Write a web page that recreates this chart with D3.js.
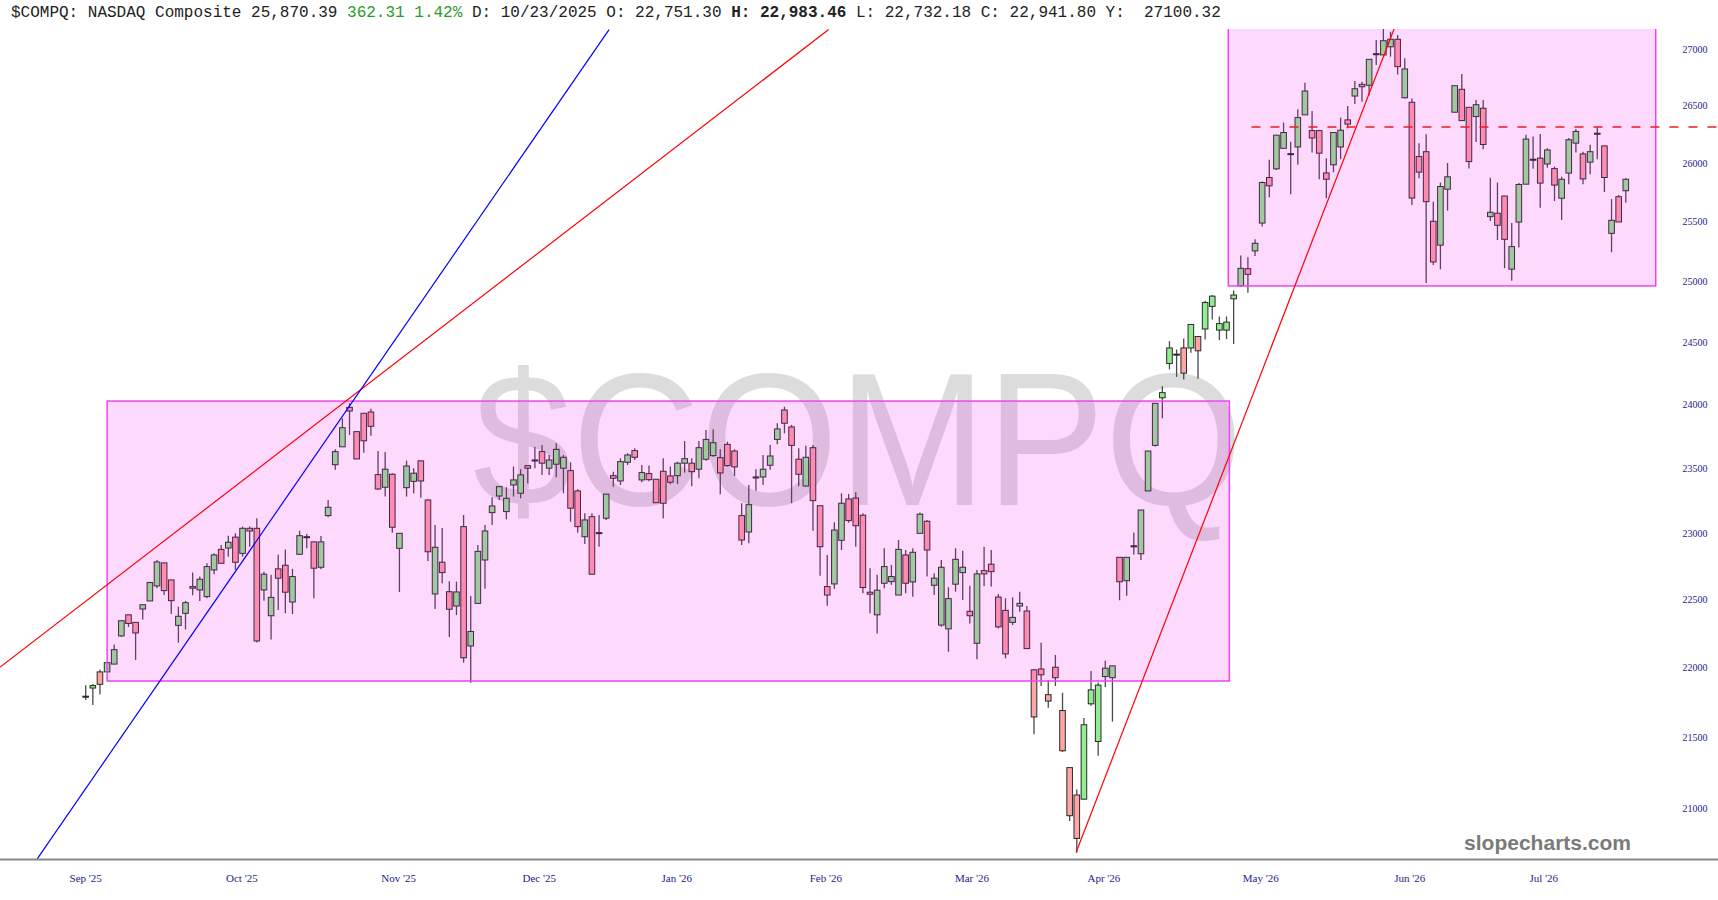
<!DOCTYPE html>
<html>
<head>
<meta charset="utf-8">
<script src="https://cdn.jsdelivr.net/npm/d3@7"></script>
<style>
  html, body { margin: 0; padding: 0; background: #fff; }
  svg { display: block; }
</style>
</head>
<body>
<div id="chart"></div>
<script>
// daily candles, Sep '25 .. Jul '26
var opens = [21795,21854,21971,21971,22028,22234,22390,22334,22433,22493,22605,22778,22650,22312,22401,22600,22575,22525,22725,22880,
  22890,22973,22850,23040,23040,22575,22383,22733,22760,22485,22843,22976,22937,22745,23137,23530,23670,23981,23789,23934,
  23944,23453,23355,23456,22888,23352,23401,23560,23257,22545,22783,22562,22455,23053,22160,22475,22800,23160,23288,23168,
  23373,23309,23523,23567,23632,23503,23534,23503,23484,23327,22976,23129,23007,23117,23445,23404,23549,23640,23412,23461,
  23417,23479,23443,23445,23542,23542,23495,23573,23601,23585,23689,23637,23137,23012,23435,23435,23526,23728,23960,23826,
  23573,23365,23663,23213,22600,22620,22949,23265,23272,23140,22558,22390,22625,22637,22537,22838,22635,23002,23094,22610,
  22314,22286,22618,22705,22416,22180,22720,22768,22522,22423,22334,22455,22418,21986,21992,21806,22005,21692,21286,21094,
  21065,21740,21471,21937,21929,22820,22644,22907,22847,23327,23681,24057,24332,24407,24457,24457,24550,24611,24796,24602,
  24602,24858,24965,25107,25255,25489,25876,25950,26127,26081,26139,26418,26281,26281,25915,25985,26139,26374,26583,26686,
  26678,26958,26947,27020,27087,26568,26528,26056,26098,25504,25303,25776,26441,26642,26484,26403,26476,25543,25572,25718,
  25103,25497,25819,26033,26042,25992,25952,25699,25914,26172,26079,26008,26258,26148,25402,25712,25763];
var highs = [21874,21884,21989,22045,22172,22346,22390,22334,22465,22637,22800,22778,22650,22450,22493,22705,22675,22775,22850,22913,
  22984,23002,23053,23053,23117,22712,22688,22840,22880,22733,23022,22997,22937,22982,23257,23650,23894,24013,23789,23934,
  23970,23637,23629,23464,23002,23562,23503,23560,23262,23066,23043,22640,22637,23142,22530,22913,23066,23278,23360,23355,
  23516,23495,23523,23671,23684,23606,23697,23606,23549,23340,23155,23155,23142,23302,23476,23580,23619,23658,23528,23523,
  23417,23580,23516,23554,23715,23580,23715,23802,23807,23650,23710,23650,23232,23373,23495,23606,23684,23855,23986,23842,
  23658,23679,23684,23213,22838,23086,23309,23304,23317,23155,22738,22688,22888,22763,22951,22875,22888,23160,23104,22700,
  22800,22595,22888,22870,22607,22725,22900,22875,22545,22513,22520,22562,22455,21992,22184,21912,22094,21820,21286,21133,
  21638,21978,21894,22053,22015,22820,22820,23008,23180,23637,24013,24149,24513,24444,24534,24648,24550,24842,24889,24713,
  24713,24926,25216,25202,25353,25842,26028,26241,26351,26183,26467,26701,26452,26281,26042,26264,26394,26496,26716,26710,
  26908,27080,27200,27155,27125,26917,26562,26171,26250,25670,25833,26000,26674,26778,26484,26548,26548,25873,25833,25718,
  25489,25828,26244,26229,26252,26128,25969,25883,26216,26294,26098,26157,26310,26148,25692,25726,25870];
var lows = [21767,21731,21808,21971,22028,22227,22300,22058,22356,22493,22588,22537,22396,22185,22282,22535,22493,22513,22693,22775,
  22825,22725,22825,22900,22185,22495,22207,22425,22401,22396,22843,22888,22513,22730,23125,23490,23670,23763,23575,23624,
  23757,23334,23283,23007,22560,23283,23309,23275,22793,22433,22625,22227,22388,22038,21893,22475,22583,23066,23257,23109,
  23283,23270,23384,23503,23451,23451,23433,23309,23091,23007,22921,22693,22900,23104,23360,23373,23528,23567,23394,23401,
  23236,23117,23379,23381,23469,23363,23425,23560,23593,23302,23515,23443,22913,22926,23329,23373,23490,23689,23776,23232,
  23363,23360,23022,22682,22458,22583,22875,23083,22900,22550,22401,22252,22588,22613,22537,22550,22525,23002,22675,22537,
  22301,22118,22562,22500,22326,22063,22605,22600,22289,22070,22314,22413,22141,21522,21868,21711,21868,21397,20913,20697,
  21065,21727,21370,21862,21612,22498,22532,22842,22800,23327,23672,23894,24284,24224,24203,24419,24209,24526,24688,24520,
  24529,24489,24957,24907,25213,25459,25708,25941,26127,25733,25985,26418,26090,25861,25699,25921,26033,26302,26513,26533,
  26591,26858,26947,26932,26773,26562,25642,25870,24988,25138,25102,25594,26441,26368,25953,26181,26119,25507,25346,25111,
  25007,25283,25819,25950,25619,25960,25676,25515,25819,26090,25819,25903,26033,25752,25244,25498,25661];
var closes = [21795,21872,21881,22038,22133,22346,22326,22256,22465,22630,22785,22570,22495,22379,22480,22588,22655,22750,22838,22775,
  22934,22783,23040,23020,22197,22693,22520,22663,22558,22675,22984,22976,22738,22937,23201,23632,23820,23952,23575,23717,
  23831,23342,23495,23048,23002,23520,23464,23404,22862,22896,22705,22431,22560,22074,22267,22865,23020,23211,23360,23270,
  23412,23451,23503,23567,23542,23567,23650,23588,23194,23053,23104,22693,23007,23302,23425,23554,23606,23588,23469,23414,
  23236,23232,23394,23542,23577,23476,23663,23728,23702,23466,23523,23513,22951,23221,23435,23495,23598,23810,23855,23681,
  23456,23588,23252,22900,22537,23027,23232,23099,23060,22593,22543,22573,22750,22675,22880,22625,22858,23148,22875,22663,
  22745,22510,22805,22745,22383,22695,22695,22712,22301,22102,22371,22475,22141,21646,21950,21760,21929,21405,20950,20793,
  21590,21841,21875,21998,22015,22636,22820,22907,23180,23637,24013,24098,24457,24407,24254,24648,24434,24827,24880,24655,
  24667,24889,25110,25060,25319,25833,25805,26241,26264,26081,26394,26627,26217,26085,25861,26264,26284,26337,26647,26665,
  26908,26958,27074,27087,26843,26822,25701,25922,25670,25163,25799,25882,26674,26368,26013,26507,26160,25580,25470,25352,
  25291,25816,26207,26033,25828,26113,25811,25861,26201,26273,25864,26098,26258,25876,25512,25498,25861];

// month tick labels, placed on candle index
var monthLabels = ["Sep '25", "Oct '25", "Nov '25", "Dec '25", "Jan '26", "Feb '26", "Mar '26", "Apr '26", "May '26", "Jun '26", "Jul '26"];
var monthPos = [0, 21.9, 43.9, 63.6, 82.9, 103.8, 124.3, 142.8, 164.8, 185.7, 204.5];
var priceTicks = [21000, 21500, 22000, 22500, 23000, 23500, 24000, 24500, 25000, 25500, 26000, 26500, 27000];

// drawn annotations: [index, price] pairs
var rangeBoxes = [[[3.0, 24031], [160.4, 21905]], [[160.25, 27600], [220.2, 24964]]];
var trendRed = [[[-12.0, 22006], [104.2, 27174]], [[138.9, 20697], [183.5, 27179]]];
var trendBlue = [[[-6.8, 20653], [73.4, 27174]]];
var resistance = [[163.5, 26312], [229, 26312]];

var W = 1718, H = 900;
var plotTop = 29, plotBottom = 859;

var svg = d3.select("#chart").append("svg")
  .attr("width", W)
  .attr("height", H);

var x = d3.scaleLinear().domain([0, 216]).range([85.7, 1625.8]);
var y = d3.scaleLog().domain([21000, 27000]).range([808.5, 49]);

svg.append("defs").append("clipPath").attr("id", "plotclip")
  .append("rect").attr("x", 0).attr("y", plotTop).attr("width", W).attr("height", plotBottom - plotTop);

// watermark
svg.append("text")
  .attr("x", 858).attr("y", 505)
  .attr("text-anchor", "middle")
  .attr("textLength", 770)
  .attr("lengthAdjust", "spacingAndGlyphs")
  .style("font-family", "'Liberation Sans', Arial, sans-serif")
  .style("font-size", "190px")
  .style("fill", "#dcdcdc")
  .text("$COMPQ");

var plot = svg.append("g").attr("clip-path", "url(#plotclip)");

var candles = d3.range(opens.length).map(function (i) {
  return { i: i, o: opens[i], h: highs[i], l: lows[i], c: closes[i] };
});

var bw = 5.6;

var g = plot.selectAll("g.candle").data(candles).enter().append("g").attr("class", "candle");

g.append("line")
  .attr("x1", function (d) { return x(d.i); })
  .attr("x2", function (d) { return x(d.i); })
  .attr("y1", function (d) { return y(d.h); })
  .attr("y2", function (d) { return y(d.l); })
  .style("stroke", "#4a4a4a")
  .style("stroke-width", 1.3);

g.append("rect")
  .attr("x", function (d) { return x(d.i) - bw / 2; })
  .attr("y", function (d) { return y(Math.max(d.o, d.c)); })
  .attr("width", bw)
  .attr("height", function (d) { return Math.max(1, Math.abs(y(d.o) - y(d.c))); })
  .style("fill", function (d) {
    if (d.o === d.c) return "#222";
    return d.c > d.o ? "#90ee90" : "#ffa5a5";
  })
  .style("stroke", "#2a2a2a")
  .style("stroke-width", 1);

// range boxes (translucent, over the candles)
plot.selectAll("rect.box").data(rangeBoxes).enter().append("rect")
  .attr("class", "box")
  .attr("x", function (d) { return x(d[0][0]); })
  .attr("y", function (d) { return y(d[0][1]); })
  .attr("width", function (d) { return x(d[1][0]) - x(d[0][0]); })
  .attr("height", function (d) { return y(d[1][1]) - y(d[0][1]); })
  .style("fill", "rgba(250,0,250,0.15)")
  .style("stroke", "#ee44ee")
  .style("stroke-width", 1.5);

function drawLines(data, color) {
  plot.selectAll(null).data(data).enter().append("line")
    .attr("x1", function (d) { return x(d[0][0]); })
    .attr("y1", function (d) { return y(d[0][1]); })
    .attr("x2", function (d) { return x(d[1][0]); })
    .attr("y2", function (d) { return y(d[1][1]); })
    .style("stroke", color)
    .style("stroke-width", 1.2);
}
drawLines(trendRed, "#ff0000");
drawLines(trendBlue, "#0000ff");

plot.append("line")
  .attr("x1", x(resistance[0][0])).attr("y1", y(resistance[0][1]))
  .attr("x2", x(resistance[1][0])).attr("y2", y(resistance[1][1]))
  .style("stroke", "#ee1c1c")
  .style("stroke-width", 1.3)
  .style("stroke-dasharray", "9,10");

// bottom axis line
svg.append("line")
  .attr("x1", 0).attr("x2", W)
  .attr("y1", plotBottom + 0.5).attr("y2", plotBottom + 0.5)
  .style("stroke", "#888")
  .style("stroke-width", 2);

svg.selectAll("text.month").data(monthLabels).enter().append("text")
  .attr("class", "month")
  .attr("x", function (d, i) { return x(monthPos[i]); })
  .attr("y", 882)
  .attr("text-anchor", "middle")
  .style("font-family", "'Liberation Serif', 'Times New Roman', serif")
  .style("font-size", "11px")
  .style("fill", "#1c1c8c")
  .text(function (d) { return d; });

svg.selectAll("text.price").data(priceTicks).enter().append("text")
  .attr("class", "price")
  .attr("x", 1695)
  .attr("y", function (d) { return y(d); })
  .attr("dy", "0.35em")
  .attr("text-anchor", "middle")
  .style("font-family", "'Liberation Serif', 'Times New Roman', serif")
  .style("font-size", "10px")
  .style("fill", "#1c1c8c")
  .text(function (d) { return d; });

svg.append("text")
  .attr("x", 1631).attr("y", 850)
  .attr("text-anchor", "end")
  .style("font-family", "'Liberation Sans', Arial, sans-serif")
  .style("font-weight", "bold")
  .style("font-size", "21px")
  .style("fill", "#7a7a7a")
  .text("slopecharts.com");

// header
var header = svg.append("text")
  .attr("x", 11).attr("y", 17)
  .style("font-family", "'Liberation Mono', 'Courier New', monospace")
  .style("font-size", "16px")
  .style("white-space", "pre")
  .style("fill", "#222");
header.append("tspan").text("$COMPQ: NASDAQ Composite 25,870.39 ");
header.append("tspan").style("fill", "#2a9a2a").text("362.31 1.42%");
header.append("tspan").text(" D: 10/23/2025 O: 22,751.30 ");
header.append("tspan").style("font-weight", "bold").text("H: 22,983.46");
header.append("tspan").text(" L: 22,732.18 C: 22,941.80 Y:  27100.32");
</script>
</body>
</html>
